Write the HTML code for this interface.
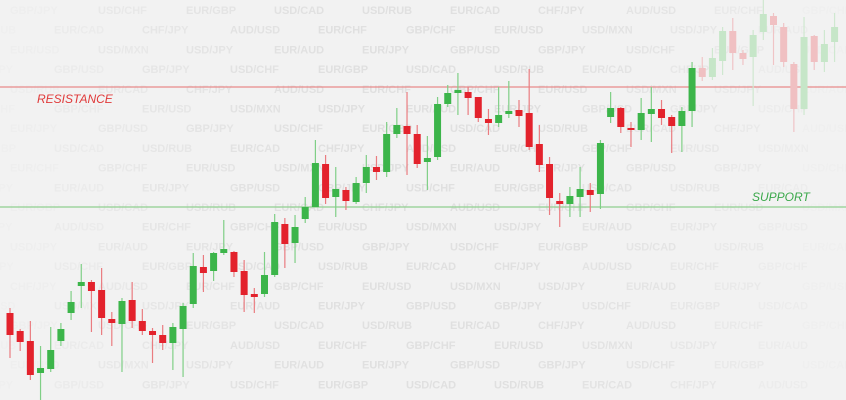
<!DOCTYPE html>
<html><head><meta charset="utf-8">
<style>
html,body{margin:0;padding:0;background:#f2f2f2;}
#wrap{position:relative;width:846px;height:400px;overflow:hidden;background:#f2f2f2;font-family:"Liberation Sans",sans-serif;}
svg{position:absolute;left:0;top:0;}
</style></head>
<body>
<div id="wrap">
<svg id="chart" width="846" height="400">
  <g id="watermark"></g>
  <line x1="0" x2="846" y1="87" y2="87" stroke="#e88a8a" stroke-width="1.2"/>
  <line x1="0" x2="846" y1="207" y2="207" stroke="#8fd08f" stroke-width="1.2"/>
  <text x="37" y="103" font-size="12" font-style="italic" fill="#e03a3a">RESISTANCE</text>
  <text x="752" y="201" font-size="12" font-style="italic" fill="#3aa84a">SUPPORT</text>
  <g id="candles"></g>
</svg>
</div>
<script>
const openVals=[87,69,59,27,31,59,87,114,118,110,81,76,100,79,69,65,57,71,96,133,129,147,148,129,106,106,125,176,157,181,193,236,203,210,198,217,233,228,266,274,266,238,243,296,307,308,303,281,277,286,290,287,256,236,199,196,203,210,206,283,292,272,270,286,291,283,274,289,332,323,339,369,347,343,368,384,373,336,291,364,338,358];
const highVals=[92,71,79,54,73,77,109,136,120,132,88,102,118,91,72,75,77,97,147,145,148,180,149,140,112,148,186,182,185,203,260,245,233,213,223,245,244,278,292,308,275,264,303,315,327,313,303,291,313,319,300,331,275,243,207,213,233,217,260,308,293,278,302,313,300,285,293,338,343,352,373,382,350,370,400,387,377,338,383,365,370,387];
const lowVals=[42,49,20,0,28,54,80,92,68,65,54,28,72,65,37,50,30,23,92,108,119,145,123,88,87,103,123,132,137,177,193,196,183,190,196,207,220,223,262,225,232,210,240,293,285,285,278,265,273,282,273,250,228,185,173,183,183,188,191,277,267,253,260,258,275,247,248,273,319,320,325,330,335,294,360,335,333,268,285,330,328,338];
const closeVals=[65,58,25,32,50,71,98,118,109,82,77,99,79,69,65,57,73,94,134,127,147,151,128,105,103,125,178,156,173,193,237,202,211,199,217,233,228,266,275,266,236,242,296,307,310,302,282,277,285,289,284,253,235,202,196,204,211,205,257,292,273,270,287,291,282,274,289,332,323,342,369,347,341,365,386,375,338,291,363,338,356,373];
const fadedFrom=68;
const pairs=["GBP/JPY","USD/CHF","EUR/GBP","USD/CAD","USD/RUB","EUR/CAD","CHF/JPY","AUD/USD","EUR/CHF","GBP/CHF","EUR/USD","USD/MXN","USD/JPY","EUR/AUD","EUR/JPY","GBP/USD"];

const NS="http://www.w3.org/2000/svg";
const xScale=i=>10+i*10.18;
const yScale=v=>400-v;

const wm=document.getElementById('watermark');
for(let r=0;r<20;r++){
  const y=14+r*19.7;
  const off=(r%2)?44:0;
  for(let c=-1;c<11;c++){
    const x=off+c*88+10;
    const cx=x+28, d=Math.min(1,Math.abs(cx-423)/400);
    const t=document.createElementNS(NS,'text');
    
    
    t.setAttribute('x',x);t.setAttribute('y',y);
    t.setAttribute('font-size','11');t.setAttribute('font-weight','bold');
    t.setAttribute('fill','#e0e0e0');
    t.setAttribute('opacity',(1-0.85*d*d).toFixed(2));
    t.textContent=pairs[(r*5+c+16)%pairs.length];
    wm.appendChild(t);
  }
}

const g=document.getElementById('candles');
for(let i=0;i<openVals.length;i++){
  const up=closeVals[i]>=openVals[i];
  const faded=i>=fadedFrom;
  const col=up?(faded?'#c6e6c8':'#3cb54a'):(faded?'#f0c0c2':'#e3222c');
  const x=xScale(i);
  const w=document.createElementNS(NS,'line');
  
  
  w.setAttribute('x1',x);w.setAttribute('x2',x);
  w.setAttribute('y1',yScale(highVals[i]));w.setAttribute('y2',yScale(lowVals[i]));
  w.setAttribute('stroke',up?(faded?'#cfe8d0':'#7fcf86'):(faded?'#f0c4c6':'#ea7c80'));
  w.setAttribute('stroke-width','1.2');
  g.appendChild(w);
  const top=yScale(Math.max(openVals[i],closeVals[i]));
  const h=Math.max(2,Math.abs(openVals[i]-closeVals[i]));
  const b=document.createElementNS(NS,'rect');
  
  
  b.setAttribute('x',x-3.5);b.setAttribute('y',top);
  b.setAttribute('width',7);b.setAttribute('height',h);
  b.setAttribute('fill',col);
  g.appendChild(b);
}
</script>
</body></html>
